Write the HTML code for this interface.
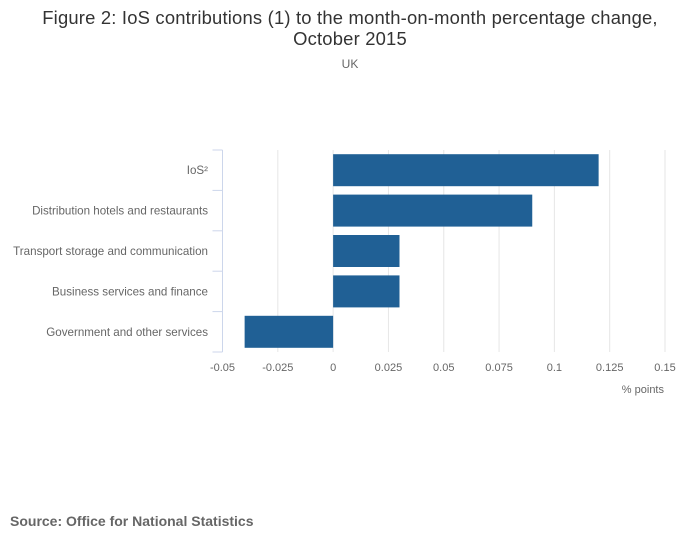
<!DOCTYPE html>
<html><head><meta charset="utf-8"><style>
body{margin:0;background:#fff;font-family:"Liberation Sans",sans-serif;}
</style></head><body>
<svg width="700" height="549" xmlns="http://www.w3.org/2000/svg" font-family="Liberation Sans, sans-serif">
<text x="350" y="24" text-anchor="middle" font-size="18.4" letter-spacing="0.2" fill="#333">Figure 2: IoS contributions (1) to the month-on-month percentage change,</text>
<text x="350" y="45" text-anchor="middle" font-size="18.4" letter-spacing="0.2" fill="#333">October 2015</text>
<text x="350" y="68" text-anchor="middle" font-size="12" fill="#666">UK</text>
<g id="grid"></g><g id="bars"></g><g id="axes"></g>
<text x="664" y="393" text-anchor="end" font-size="11" fill="#666">% points</text>
<text x="10" y="526" font-size="14" font-weight="bold" fill="#666">Source: Office for National Statistics</text>
</svg>
<script>
const categories=["IoS²","Distribution hotels and restaurants","Transport storage and communication","Business services and finance","Government and other services"];
const values=[0.12,0.09,0.03,0.03,-0.04];
const ticks=[-0.05,-0.025,0,0.025,0.05,0.075,0.1,0.125,0.15];
const tickLabels=["-0.05","-0.025","0","0.025","0.05","0.075","0.1","0.125","0.15"];
const NS="http://www.w3.org/2000/svg";
const x0=222.5,x1=665,plotTop=150,plotBot=352;
const xs=v=>x0+(v-ticks[0])/(ticks[ticks.length-1]-ticks[0])*(x1-x0);
const band=(plotBot-plotTop)/categories.length;
function mk(t,a,p){const e=document.createElementNS(NS,t);for(const k in a)e.setAttribute(k,a[k]);document.getElementById(p).appendChild(e);return e;}
ticks.forEach((t,i)=>{
 if(i>0){const g=mk('line',{x1:xs(t),x2:xs(t),y1:plotTop,y2:plotBot,stroke:'#e6e6e6','stroke-width':1},'grid');
 
 }
 const l=mk('text',{x:xs(t),y:371,'text-anchor':'middle','font-size':11,fill:'#666'},'axes');
 l.textContent=tickLabels[i];
 
 
});
const ax=mk('line',{x1:x0,x2:x0,y1:plotTop,y2:plotBot,stroke:'#ccd6eb','stroke-width':1},'axes');


for(let i=0;i<=categories.length;i++){
 const y=plotTop+i*band;
 const tk=mk('line',{x1:x0-10,x2:x0,y1:y,y2:y,stroke:'#ccd6eb','stroke-width':1},'axes');
 
 
}
categories.forEach((c,i)=>{
 const yc=plotTop+(i+0.5)*band;
 const l=mk('text',{x:208,y:yc+4,'text-anchor':'end','font-size':11.6,fill:'#666'},'axes');
 l.textContent=c;
 
 
 const v=values[i];
 const b=mk('rect',{x:Math.min(xs(0),xs(v)),y:yc-16,width:Math.abs(xs(v)-xs(0)),height:32,fill:'#206095'},'bars');
 
 
});
</script>
</body></html>
